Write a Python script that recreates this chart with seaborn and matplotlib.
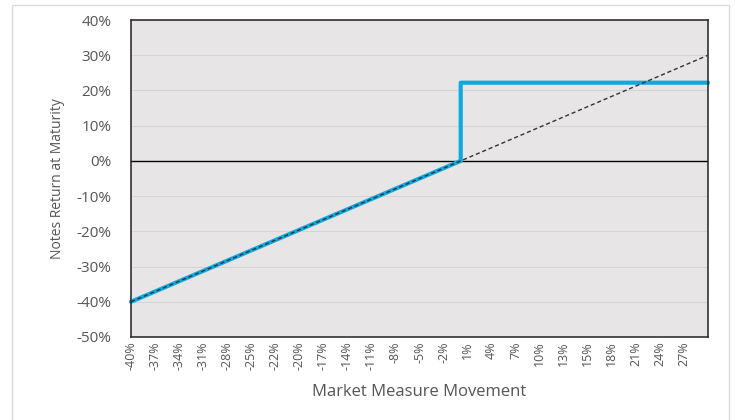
import numpy as np
import pandas as pd
import matplotlib
matplotlib.use('Agg')
import matplotlib.pyplot as plt
import seaborn as sns
from matplotlib.patches import Rectangle
from matplotlib.ticker import FuncFormatter

# payoff profile (market move %, note return %)
market_move = [-40, 0, 0, 30]
note_return = [-40, 0, 22.2, 22.2]
# reference: underlying return
ref_move = [-40, 30]
ref_return = [-40, 30]

x_tick_labels = ['-40%', '-37%', '-34%', '-31%', '-28%', '-25%', '-22%', '-20%',
                 '-17%', '-14%', '-11%', '-8%', '-5%', '-2%', '1%', '4%', '7%',
                 '10%', '13%', '15%', '18%', '21%', '24%', '27%']
y_ticks = [-50, -40, -30, -20, -10, 0, 10, 20, 30, 40]

sns.set_theme(style='white')
plt.rcParams['font.family'] = ['Open Sans', 'DejaVu Sans']

fig = plt.figure(figsize=(7.35, 4.2), dpi=100)
ax = fig.add_axes([131/735, 1 - 337/420, (708-131)/735, (337-20)/420])
ax.set_facecolor('#e7e5e6')

df_note = pd.DataFrame({'move': market_move, 'ret': note_return})
df_ref = pd.DataFrame({'move': ref_move, 'ret': ref_return})

for y in y_ticks:
    if y != 0:
        ax.axhline(y, color='#d5d3d4', lw=0.8, zorder=0)
ax.axhline(0, color='black', lw=1.0, zorder=1)

sns.lineplot(data=df_note, x='move', y='ret', sort=False, estimator=None,
             color='#0fa9e0', lw=3, ax=ax, zorder=2, clip_on=False)
sns.lineplot(data=df_ref, x='move', y='ret', estimator=None, color='#333333',
             lw=1, ls=(0, (3, 2)), ax=ax, zorder=3)

ax.set_xlim(-40, 30)
ax.set_ylim(-50, 40)
step = 70 / 72
ax.set_xticks([-40 + 3 * step * i for i in range(len(x_tick_labels))])
ax.set_xticklabels(x_tick_labels, rotation=90, fontsize=9, color='#555555')
ax.set_yticks(y_ticks)
ax.yaxis.set_major_formatter(FuncFormatter(lambda v, p: f'{v:.0f}%'))
ax.tick_params(axis='y', labelsize=11, labelcolor='#555555', length=0, pad=14)
ax.tick_params(axis='x', length=0, pad=3)

for s in ax.spines.values():
    s.set_color('#222222')
    s.set_linewidth(1.1)

ax.set_xlabel('Market Measure Movement', fontsize=12, color='#555555', labelpad=10)
ax.set_ylabel('Notes Return at Maturity', fontsize=10, color='#555555', labelpad=8)

fig.patches.append(Rectangle((12/735, -0.02), (729-12)/735, 1 - 5/420 + 0.02,
                             transform=fig.transFigure, fill=False,
                             edgecolor='#d9d9d9', lw=1))

fig.savefig('out.png', dpi=100)
